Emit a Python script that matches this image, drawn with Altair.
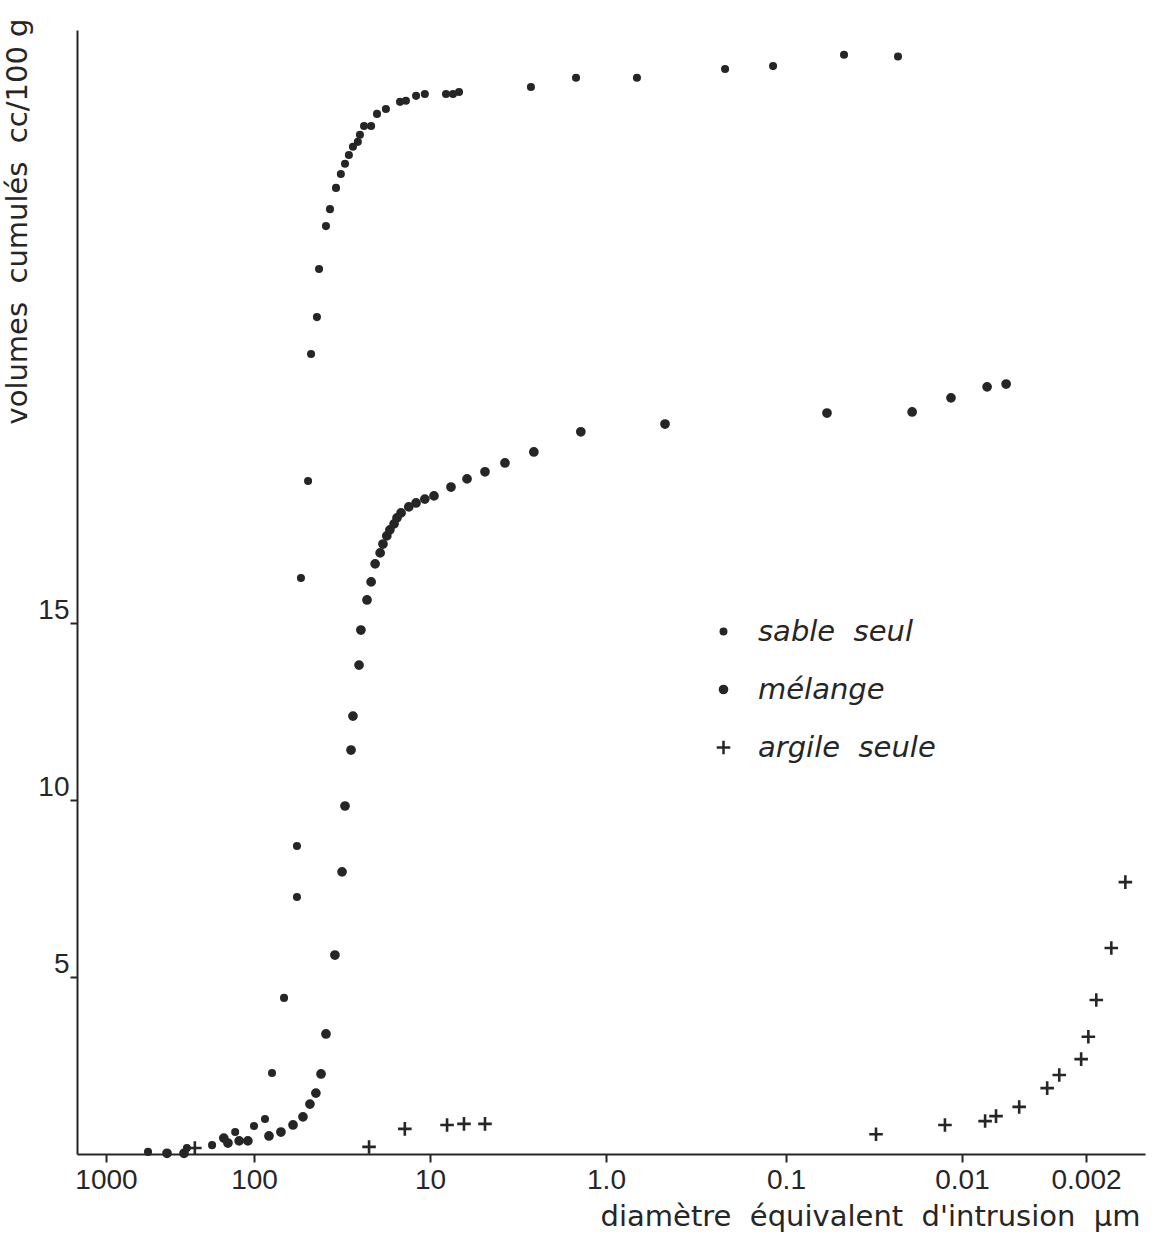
import altair as alt
import pandas as pd

# ---------------- data ----------------
SERIES = ["sable seul", "mélange", "argile seule"]

SABLE_D = [0.0231, 0.0468, 0.118, 0.218, 0.673, 1.48, 2.67, 6.84, 7.40, 8.11,
           10.7, 12.0, 13.7, 14.8, 17.8, 20.0, 21.6, 23.7, 25.0, 25.7,
           27.4, 28.9, 30.4, 32.1, 34.2, 37.0, 39.0, 42.7, 43.9, 47.4,
           49.3, 54.1, 57.0, 57.0, 67.5, 79.0, 86.6, 100, 134, 192,
           284, 520]
SABLE_V = [31.0, 31.05, 30.73, 30.65, 30.40, 30.40, 30.14, 30.0, 29.94, 29.94,
           29.94, 29.89, 29.75, 29.72, 29.52, 29.38, 29.04, 29.04, 28.79, 28.59,
           28.45, 28.22, 27.97, 27.68, 27.29, 26.69, 26.21, 25.0, 23.64, 22.60,
           19.01, 16.27, 8.70, 7.26, 4.41, 2.29, 0.99, 0.79, 0.62, 0.25,
           0.17, 0.06]

MELANGE_D = [0.00564, 0.00722, 0.01155, 0.0192, 0.0585, 0.470, 1.39, 2.57, 3.75, 4.87,
             6.16, 7.60, 9.49, 10.7, 12.0, 13.2, 14.6, 15.4, 16.0, 16.9,
             17.6, 18.5, 19.2, 20.5, 21.6, 22.8, 24.7, 25.3, 27.4, 28.1,
             30.4, 31.6, 34.7, 39.0, 41.6, 44.5, 48.1, 52.7, 60.0, 70.3,
             82.2, 110, 126, 150, 160, 297, 387]
MELANGE_V = [21.75, 21.67, 21.36, 20.96, 20.93, 20.62, 20.40, 19.83, 19.52, 19.27,
             19.07, 18.84, 18.59, 18.50, 18.39, 18.28, 18.11, 17.97, 17.80, 17.63,
             17.46, 17.23, 16.98, 16.67, 16.16, 15.65, 14.80, 13.81, 12.37, 11.41,
             9.83, 7.97, 5.62, 3.39, 2.26, 1.72, 1.41, 1.05, 0.82, 0.62,
             0.51, 0.37, 0.37, 0.31, 0.45, 0.02, 0.02]

ARGILE_D = [251, 22.2, 13.9, 8.00, 6.41, 4.87, 0.0308, 0.0125, 0.00741, 0.00643,
            0.00476, 0.00331, 0.00283, 0.00213, 0.00194, 0.00175, 0.00144, 0.00120]
ARGILE_V = [0.17, 0.20, 0.71, 0.82, 0.85, 0.85, 0.56, 0.82, 0.93, 1.07,
            1.33, 1.86, 2.23, 2.68, 3.31, 4.35, 5.82, 7.68]

X_TICKS = [1000, 100, 10, 1, 0.1, 0.01, 0.002]
X_TICK_LABELS = ["1000", "100", "10", "1.0", "0.1", "0.01", "0.002"]
Y_TICKS = [5, 10, 15]

X_TITLE = "diamètre\u00a0\u00a0équivalent\u00a0\u00a0d'intrusion\u00a0\u00a0µm"
Y_TITLE = "volumes\u00a0\u00a0cumulés\u00a0\u00a0cc/100\u00a0g"

# the original's logarithmic axis is drawn with a narrower first decade
X_BREAKS = [1570, 1000, 100, 10, 1, 0.1, 0.01, 0.002, 0.00093]
X_BREAK_POS = [0, 29, 177, 353, 529, 709, 885, 1009, 1068]

# ---------------- table ----------------
df = pd.concat([
    pd.DataFrame({"d": SABLE_D, "v": SABLE_V, "serie": SERIES[0]}),
    pd.DataFrame({"d": MELANGE_D, "v": MELANGE_V, "serie": SERIES[1]}),
    pd.DataFrame({"d": ARGILE_D, "v": ARGILE_V, "serie": SERIES[2]}),
], ignore_index=True)

INK = "#262626"
PLUS = "M-1.6,0L1.6,0M0,-1.6L0,1.6"

label_expr = " : ".join(
    f"datum.value > {v * 0.9} ? '{l}'" for v, l in zip(X_TICKS, X_TICK_LABELS)
) + " : ''"

legend = alt.Legend(
    orient="none", legendX=632, legendY=587, title=None,
    labelFont="DejaVu Sans", labelFontStyle="italic", labelFontSize=29,
    labelColor=INK, labelOffset=20, rowPadding=28, padding=0, labelLimit=0,
    labelExpr="replace(datum.label, ' ', '\u00a0\u00a0')",
    symbolStrokeWidth=2.5,
)

chart = alt.Chart(df).mark_point(opacity=1, strokeWidth=2.6).encode(
    x=alt.X(
        "d:Q",
        scale=alt.Scale(type="log", domain=X_BREAKS, range=X_BREAK_POS, nice=False, zero=False),
        axis=alt.Axis(
            values=X_TICKS, labelExpr=label_expr, grid=False,
            tickSize=8, tickWidth=2, tickColor=INK,
            domainWidth=2, domainColor=INK,
            labelFont="Liberation Sans", labelFontSize=28, labelColor=INK,
            labelPadding=4, labelFlush=False,
            titleFont="DejaVu Sans", titleFontSize=29, titleFontWeight="normal",
            titleColor=INK, titleAlign="right", titleBaseline="alphabetic",
            titleX=1063, titleY=71,
        ),
        title=X_TITLE,
    ),
    y=alt.Y(
        "v:Q",
        scale=alt.Scale(domain=[0, 31.75], nice=False, zero=True),
        axis=alt.Axis(
            values=Y_TICKS, grid=False,
            tickSize=7, tickWidth=2, tickColor=INK,
            domainWidth=2, domainColor=INK,
            labelFont="Liberation Sans", labelFontSize=28, labelColor=INK,
            labelPadding=1, labelBaseline="alphabetic", labelOffset=-4,
            titleFont="DejaVu Sans", titleFontSize=29, titleFontWeight="normal",
            titleColor=INK, titleAngle=270, titleAlign="right", titleBaseline="middle",
            titleX=-60, titleY=-12,
        ),
        title=Y_TITLE,
    ),
    shape=alt.Shape("serie:N", scale=alt.Scale(domain=SERIES, range=["circle", "circle", PLUS]), legend=legend),
    size=alt.Size("serie:N", scale=alt.Scale(domain=SERIES, range=[30, 72, 45]), legend=legend),
    fill=alt.Fill("serie:N", scale=alt.Scale(domain=SERIES, range=[INK, INK, "transparent"]), legend=legend),
    stroke=alt.Stroke("serie:N", scale=alt.Scale(domain=SERIES, range=[INK, INK, INK]), legend=legend),
).properties(
    width=1068, height=1124,
    autosize=alt.AutoSizeParams(type="none"),
    padding={"left": 77, "top": 30, "right": 12, "bottom": 91},
    background="white",
).configure_view(stroke=None)

chart.save("out.html", embed_options={"renderer": "svg", "actions": False})
